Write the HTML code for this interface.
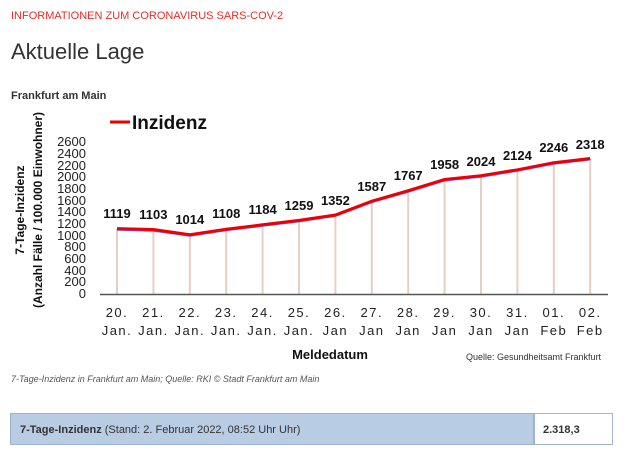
<!DOCTYPE html>
<html><head><meta charset="utf-8"><style>
body{margin:0;width:640px;height:460px;background:#fff;font-family:"Liberation Sans",sans-serif;overflow:hidden;position:relative}
.a{position:absolute;white-space:nowrap}
</style></head><body>
<div class="a" style="left:11px;top:10px;font-size:11px;color:#e0302a">INFORMATIONEN ZUM CORONAVIRUS SARS-COV-2</div>
<div class="a" style="left:11px;top:39px;font-size:22px;color:#333">Aktuelle Lage</div>
<div class="a" style="left:11px;top:90px;font-size:11px;font-weight:bold;color:#333">Frankfurt am Main</div>
<svg class="a" style="left:0;top:0" width="640" height="460" font-family="Liberation Sans, sans-serif">
<line x1="110" y1="122" x2="130" y2="122" stroke="#e00" stroke-width="3"/>
<text x="132" y="129" font-size="19" font-weight="bold" fill="#111">Inzidenz</text>
<g font-size="13" fill="#111" font-weight="bold">
<text transform="translate(24,210) rotate(-90)" text-anchor="middle" font-size="12">7-Tage-Inzidenz</text>
<text transform="translate(42,210) rotate(-90)" text-anchor="middle" font-size="12">(Anzahl Fälle / 100.000 Einwohner)</text>
</g>
<g font-size="13" fill="#222" text-anchor="end">
<text x="86" y="298">0</text><text x="86" y="286">200</text><text x="86" y="275">400</text><text x="86" y="263">600</text><text x="86" y="251">800</text><text x="86" y="240">1000</text><text x="86" y="228">1200</text><text x="86" y="216">1400</text><text x="86" y="205">1600</text><text x="86" y="193">1800</text><text x="86" y="181">2000</text><text x="86" y="170">2200</text><text x="86" y="158">2400</text><text x="86" y="146">2600</text>
</g>
<g stroke="#e8cfc4" stroke-width="2">
<line x1="117" y1="229" x2="117" y2="294"/><line x1="153.4" y1="230" x2="153.4" y2="294"/><line x1="189.8" y1="235" x2="189.8" y2="294"/><line x1="226.2" y1="229" x2="226.2" y2="294"/><line x1="262.6" y1="225" x2="262.6" y2="294"/><line x1="299" y1="220" x2="299" y2="294"/><line x1="335.4" y1="215" x2="335.4" y2="294"/><line x1="371.8" y1="201" x2="371.8" y2="294"/><line x1="408.2" y1="191" x2="408.2" y2="294"/><line x1="444.6" y1="180" x2="444.6" y2="294"/><line x1="481" y1="176" x2="481" y2="294"/><line x1="517.4" y1="170" x2="517.4" y2="294"/><line x1="553.8" y1="163" x2="553.8" y2="294"/><line x1="590.2" y1="159" x2="590.2" y2="294"/>
</g>
<line x1="100" y1="294.5" x2="608" y2="294.5" stroke="#555" stroke-width="1.5"/>
<polyline fill="none" stroke="#66f" stroke-width="1.5" points="117,230 153.4,231 189.8,236 226.2,230.5 262.6,226 299,221.6 335.4,216.2 371.8,202.4 408.2,192 444.6,180.8 481,177 517.4,171 553.8,164 590.2,159.8"/>
<polyline fill="none" stroke="#e00" stroke-width="3" points="117,228.6 153.4,229.5 189.8,234.7 226.2,229.2 262.6,224.8 299,220.4 335.4,215 371.8,201.2 408.2,190.7 444.6,179.5 481,175.7 517.4,169.8 553.8,162.7 590.2,158.5"/>
<g font-size="13" font-weight="bold" fill="#111" text-anchor="middle">
<text x="117" y="218">1119</text><text x="153.4" y="219">1103</text><text x="189.8" y="224">1014</text><text x="226.2" y="218">1108</text><text x="262.6" y="214">1184</text><text x="299" y="210">1259</text><text x="335.4" y="205">1352</text><text x="371.8" y="191">1587</text><text x="408.2" y="180">1767</text><text x="444.6" y="169">1958</text><text x="481" y="166">2024</text><text x="517.4" y="160">2124</text><text x="553.8" y="152">2246</text><text x="590.2" y="149">2318</text>
</g>
<g font-size="13" fill="#222" text-anchor="middle" letter-spacing="1.5">
<text x="117" y="317">20.</text><text x="153.4" y="317">21.</text><text x="189.8" y="317">22.</text><text x="226.2" y="317">23.</text><text x="262.6" y="317">24.</text><text x="299" y="317">25.</text><text x="335.4" y="317">26.</text><text x="371.8" y="317">27.</text><text x="408.2" y="317">28.</text><text x="444.6" y="317">29.</text><text x="481" y="317">30.</text><text x="517.4" y="317">31.</text><text x="553.8" y="317">01.</text><text x="590.2" y="317">02.</text>
<text x="117" y="335">Jan.</text><text x="153.4" y="335">Jan.</text><text x="189.8" y="335">Jan.</text><text x="226.2" y="335">Jan.</text><text x="262.6" y="335">Jan.</text><text x="299" y="335">Jan.</text><text x="335.4" y="335">Jan</text><text x="371.8" y="335">Jan</text><text x="408.2" y="335">Jan</text><text x="444.6" y="335">Jan</text><text x="481" y="335">Jan</text><text x="517.4" y="335">Jan</text><text x="553.8" y="335">Feb</text><text x="590.2" y="335">Feb</text>
</g>
<text x="330" y="359" font-size="13" font-weight="bold" fill="#111" text-anchor="middle">Meldedatum</text>
<text x="466" y="360" font-size="9" fill="#333">Quelle: Gesundheitsamt Frankfurt</text>
</svg>
<div class="a" style="left:11px;top:374px;font-size:9px;font-style:italic;color:#555">7-Tage-Inzidenz in Frankfurt am Main; Quelle: RKI © Stadt Frankfurt am Main</div>
<div class="a" style="left:10px;top:413px;width:524px;height:32px;background:#b8cce4;border:1px solid #9fb3cf;font-size:11px;color:#333;line-height:32px;padding-left:9px;box-sizing:border-box"><b>7-Tage-Inzidenz</b> (Stand: 2. Februar 2022, 08:52 Uhr Uhr)</div>
<div class="a" style="left:534px;top:413px;width:79px;height:32px;background:#fff;border:1px solid #9fb3cf;font-size:11px;font-weight:bold;color:#333;line-height:32px;padding-left:8px;box-sizing:border-box">2.318,3</div>
</body></html>
